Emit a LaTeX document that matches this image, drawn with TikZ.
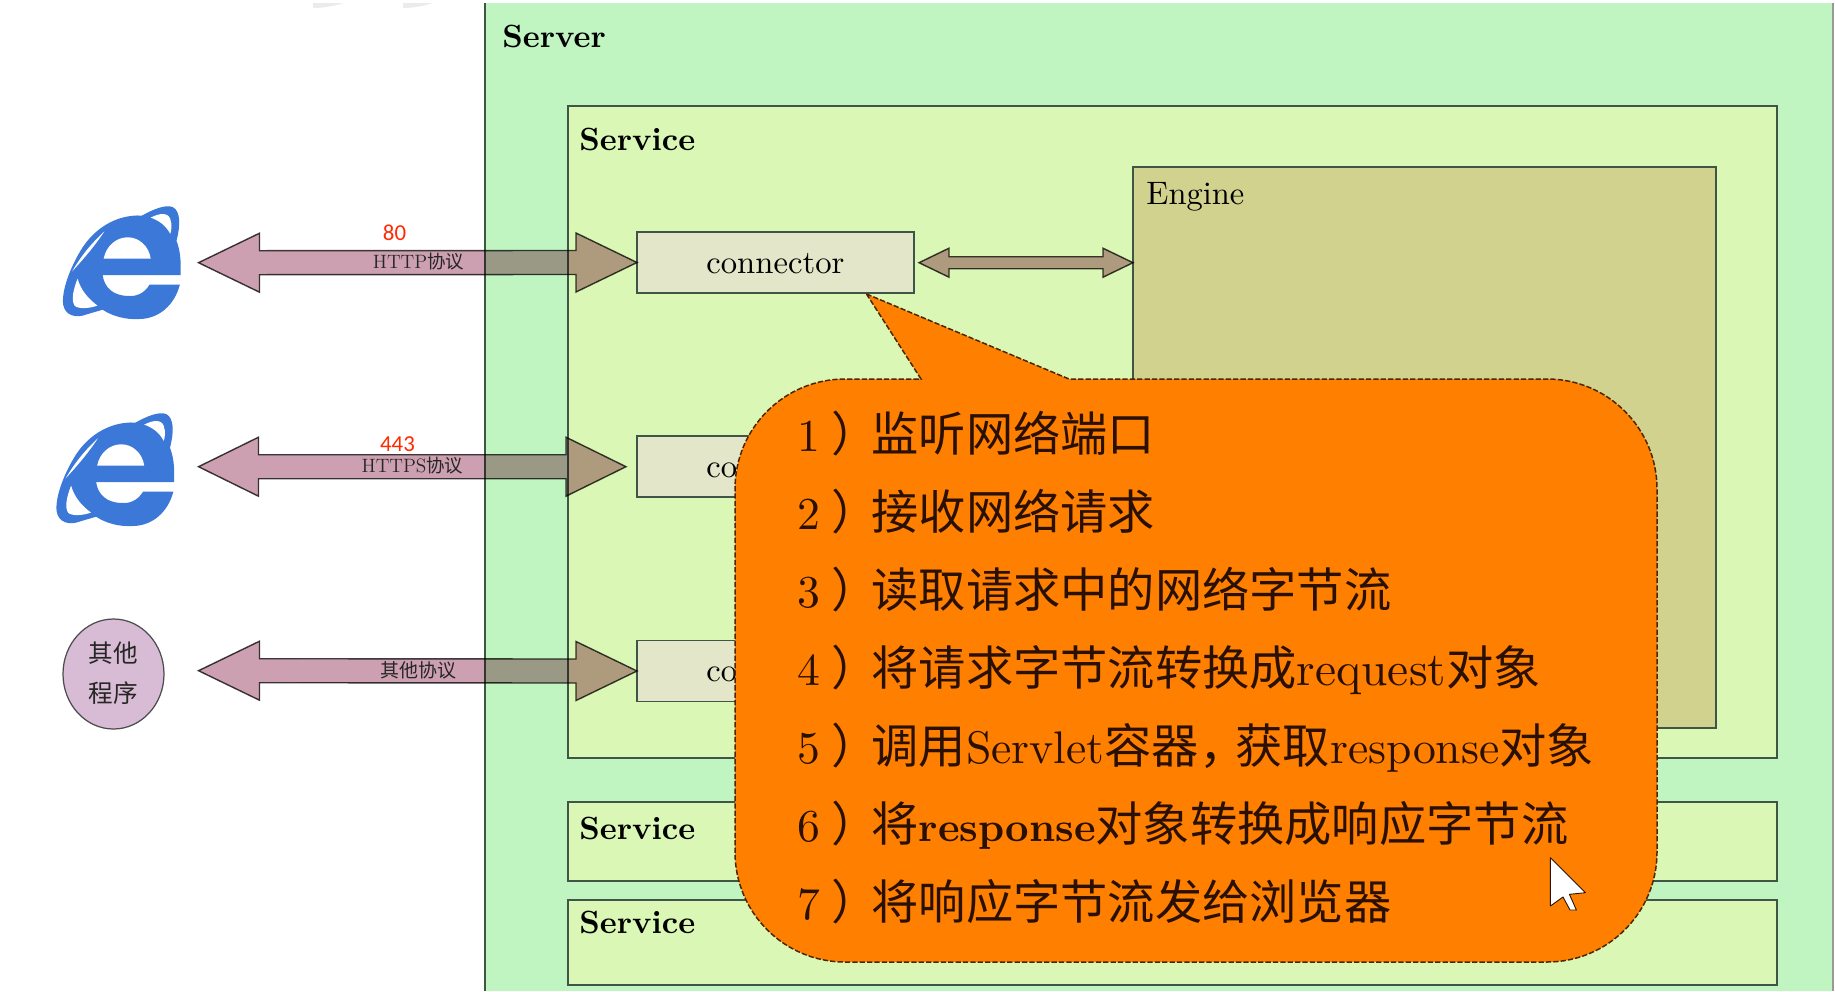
\documentclass[tikz,border=0pt]{standalone}
\usepackage{fontspec}
\usetikzlibrary{shapes.geometric}
\newfontfamily\cjk{Noto Sans CJK SC}
\newfontfamily\lblfont{Carlito}
\newcommand\zh[1]{{\cjk #1}}
\newcommand\sz[1]{\fontsize{#1}{#1}\selectfont}
% Roman text set at its 10pt design size and enlarged, which keeps the sturdy strokes
\newcommand\lat[2]{\scalebox{#1}{\sz{10}#2}}
\newcommand\stepnum[1]{\makebox[42.2pt][l]{\lat{2.6}{#1}\hspace{6.2pt}\zh{）}}}
\def\u{0.02cm}
\definecolor{servergreen}{HTML}{C0F5C2}
\definecolor{servicegreen}{HTML}{DAF7B5}
\definecolor{enginefill}{HTML}{D2D28F}
\definecolor{connfill}{HTML}{E3E6C8}
\definecolor{frameline}{HTML}{3F5546}
\definecolor{arrowpink}{HTML}{CCA0B0}
\definecolor{bubbleorange}{HTML}{FF8000}
\definecolor{iceblue}{HTML}{3B78D8}
\definecolor{otherpink}{HTML}{D8BBD4}
\definecolor{labelred}{HTML}{FF2A00}
\definecolor{inkbrown}{HTML}{2A1000}
\tikzset{
  frame/.style={draw=frameline,line width=0.85pt,anchor=north west,inner sep=0pt,outer sep=0pt},
  servicebox/.style={frame,fill=servicegreen},
  connbox/.style={frame,fill=connfill,minimum width=277*\u,minimum height=61*\u},
  connlabel/.style={anchor=base west,inner sep=0pt,text=black},
  boxtitle/.style={anchor=west,inner sep=0pt,text=black},
  fatarrow/.style={draw=black!75,line width=0.8pt,fill=arrowpink,line join=miter},
  arrowlabel/.style={anchor=center,inner sep=0pt,font=\sz{11},text=black!85},
  portlabel/.style={anchor=center,inner sep=0pt,font=\lblfont\sz{13},text=labelred},
  stepline/.style={anchor=base west,inner sep=0pt,font=\sz{26.9},text=inkbrown},
  ielogo/.pic={
    \begin{scope}[x=1.03*0.02cm/3,y=-1.035*0.02cm/3]
      \fill[iceblue] (392,245) .. controls (394,200) and (390,170) .. (380,145)
        .. controls (392,100) and (392,60) .. (370,48)
        .. controls (350,38) and (310,55) .. (280,72)
        .. controls (200,68) and (135,115) .. (100,175)
        .. controls (70,225) and (45,290) .. (50,330)
        .. controls (55,360) and (85,372) .. (120,358)
        -- (165,345)
        .. controls (195,365) and (235,374) .. (270,372)
        .. controls (330,372) and (375,330) .. (390,272)
        -- (302,272)
        .. controls (285,300) and (260,307) .. (240,305)
        .. controls (195,305) and (170,280) .. (165,245) -- cycle;
      \fill[white] (168,197) .. controls (175,160) and (205,135) .. (238,135)
        .. controls (270,135) and (300,160) .. (305,197) -- cycle;
      \fill[white] (305,78) .. controls (330,65) and (355,62) .. (362,82)
        .. controls (368,100) and (365,115) .. (362,125)
        .. controls (348,100) and (330,87) .. (305,78) -- cycle;
      \fill[white] (92,255) .. controls (80,285) and (72,318) .. (84,334)
        .. controls (95,343) and (125,342) .. (150,333)
        .. controls (125,315) and (102,290) .. (92,255) -- cycle;
      \fill[white] (170,118) .. controls (135,150) and (105,185) .. (76,234)
        .. controls (112,195) and (142,160) .. (170,118) -- cycle;
    \end{scope}
  },
}
% Fat double-headed arrow between two named points: head length, head half-height, shaft half-height
\newcommand\fatdouble[5]{%
  \draw[fatarrow] (#1) -- ([shift={(#3,-#4)}]#1) -- ([shift={(#3,-#5)}]#1)
    -- ([shift={(-#3,-#5)}]#2) -- ([shift={(-#3,-#4)}]#2) -- (#2)
    -- ([shift={(-#3,#4)}]#2) -- ([shift={(-#3,#5)}]#2)
    -- ([shift={(#3,#5)}]#1) -- ([shift={(#3,#4)}]#1) -- cycle;}
\begin{document}
\begin{tikzpicture}[x=0.02cm,y=-0.02cm]
\useasboundingbox (0,0) rectangle (1835,991);
\fill[white] (0,0) rectangle (1835,991);

% faint marks along the top edge
\fill[black!8] (313,3) -- (343,3) .. controls (335,6) and (322,8) .. (313,8) -- cycle;
\fill[black!8] (403,3) -- (432,3) .. controls (425,6) and (412,8) .. (403,8) -- cycle;

% server and its services
\node[anchor=north west,fill=servergreen,inner sep=0pt,outer sep=0pt,minimum width=1348*\u,minimum height=988*\u] (server) at (485,3) {};
\draw[frameline,line width=0.85pt] (server.north west) -- (server.south west);
\draw[black!40,line width=0.85pt] (server.north east) -- (server.south east);
\node[boxtitle] (servertitle) at (502,36.5) {\lat{1.83}{\bfseries Server}};

\node[servicebox,minimum width=1209*\u,minimum height=652*\u] (serviceA) at (568,106) {};
\node[servicebox,minimum width=1209*\u,minimum height=79*\u] (serviceB) at (568,802) {};
\node[servicebox,minimum width=1209*\u,minimum height=85*\u] (serviceC) at (568,900) {};
\node[boxtitle] (titleA) at (579,139) {\lat{1.83}{\bfseries Service}};
\node[boxtitle] (titleB) at (579,828.5) {\lat{1.83}{\bfseries Service}};
\node[boxtitle] (titleC) at (579,922) {\lat{1.83}{\bfseries Service}};

\node[frame,fill=enginefill,minimum width=583*\u,minimum height=561*\u] (engine) at (1133,167) {};
\node[boxtitle] (enginetitle) at (1146,197) {\lat{1.85}{Engine}};

\node[connbox] (connA) at (637,232) {};
\node[connbox] (connB) at (637,436) {};
\node[connbox] (connC) at (637,640.5) {};
\node[connlabel] (connAtext) at (706,273) {\lat{1.86}{connector}};
\node[connlabel] (connBtext) at (706,477) {\lat{1.86}{co}};
\node[connlabel] (connCtext) at (706,681.5) {\lat{1.86}{co}};

% clients
\pic at (46,190.7) {ielogo};
\pic at (39.5,397.7) {ielogo};
\node[draw=black!70,line width=0.7pt,fill=otherpink,ellipse,inner sep=0pt,minimum width=101*\u,minimum height=110*\u] (other) at (113.5,674) {};
\node[inner sep=0pt,font=\cjk\sz{14},text=black!85] (otherA) at (113.5,653) {其他};
\node[inner sep=0pt,font=\cjk\sz{14},text=black!85] (otherB) at (113.5,693) {程序};

% protocol arrows overprint the panels behind them
\coordinate (startA) at (198.5,262.7);
\coordinate (startB) at (198.5,466.7);
\coordinate (startC) at (198.5,670.7);
\coordinate (endB) at (626,466.7);
\coordinate (engineStart) at (919,262.7);
\coordinate (engineEnd) at (1133,262.7);
\begin{scope}[blend mode=multiply]
  \fatdouble{startA}{connA.west}{61}{29.5}{12}
  \fatdouble{startB}{endB}{60}{29.5}{12}
  \fatdouble{startC}{connC.west}{61}{29.5}{12}
  \fatdouble{engineStart}{engineEnd}{30}{14.5}{6}
\end{scope}

\node[arrowlabel] (lblA) at (418.5,262) {HTTP\zh{\sz{10.5}协议}};
\node[arrowlabel] (lblB) at (412.5,465.7) {HTTPS\zh{\sz{10.5}协议}};
\node[arrowlabel,font=\cjk\sz{10.8}] (lblC) at (418.5,670) {其他协议};
\node[portlabel] (portA) at (394.5,232.7) {80};
\node[portlabel] (portB) at (397.5,444) {443};

% callout from the first connector
\coordinate (tip) at (866.5,294);
\draw[fill=bubbleorange,draw=black!70!bubbleorange,line width=0.85pt,dash pattern=on 3pt off 1.2pt]
  (tip) -- (1069,379) [rounded corners=110*\u] -- (1657,379) -- (1657,962) -- (735,962) -- (735,379) [sharp corners] -- (921,379) -- cycle;

\node[stepline] (stepA) at (797,451.5) {\stepnum{1}\zh{监听网络端口}};
\node[stepline] (stepB) at (797,529.5) {\stepnum{2}\zh{接收网络请求}};
\node[stepline] (stepC) at (797,607.5) {\stepnum{3}\zh{读取请求中的网络字节流}};
\node[stepline] (stepD) at (797,685.5) {\stepnum{4}\zh{将请求字节流转换成}\lat{2.7}{request}\zh{对象}};
\node[stepline] (stepE) at (797,763.5) {\stepnum{5}\zh{调用}\lat{2.6}{Servlet}\zh{容器，}\hspace{-6pt}\zh{获取}\lat{2.6}{response}\zh{对象}};
\node[stepline] (stepF) at (797,841.5) {\stepnum{6}\zh{将}\lat{2.33}{\bfseries response}\zh{对象转换成响应字节流}};
\node[stepline] (stepG) at (797,919.5) {\stepnum{7}\zh{将响应字节流发给浏览器}};

% mouse pointer
\draw[fill=white,draw=inkbrown,line width=0.5pt,line join=round]
  (1550.4,857.7) -- (1550.4,906) -- (1563,897) -- (1570,910) -- (1576.4,910) -- (1569.4,894.3) -- (1585.4,892.7) -- cycle;
\end{tikzpicture}
\end{document}
